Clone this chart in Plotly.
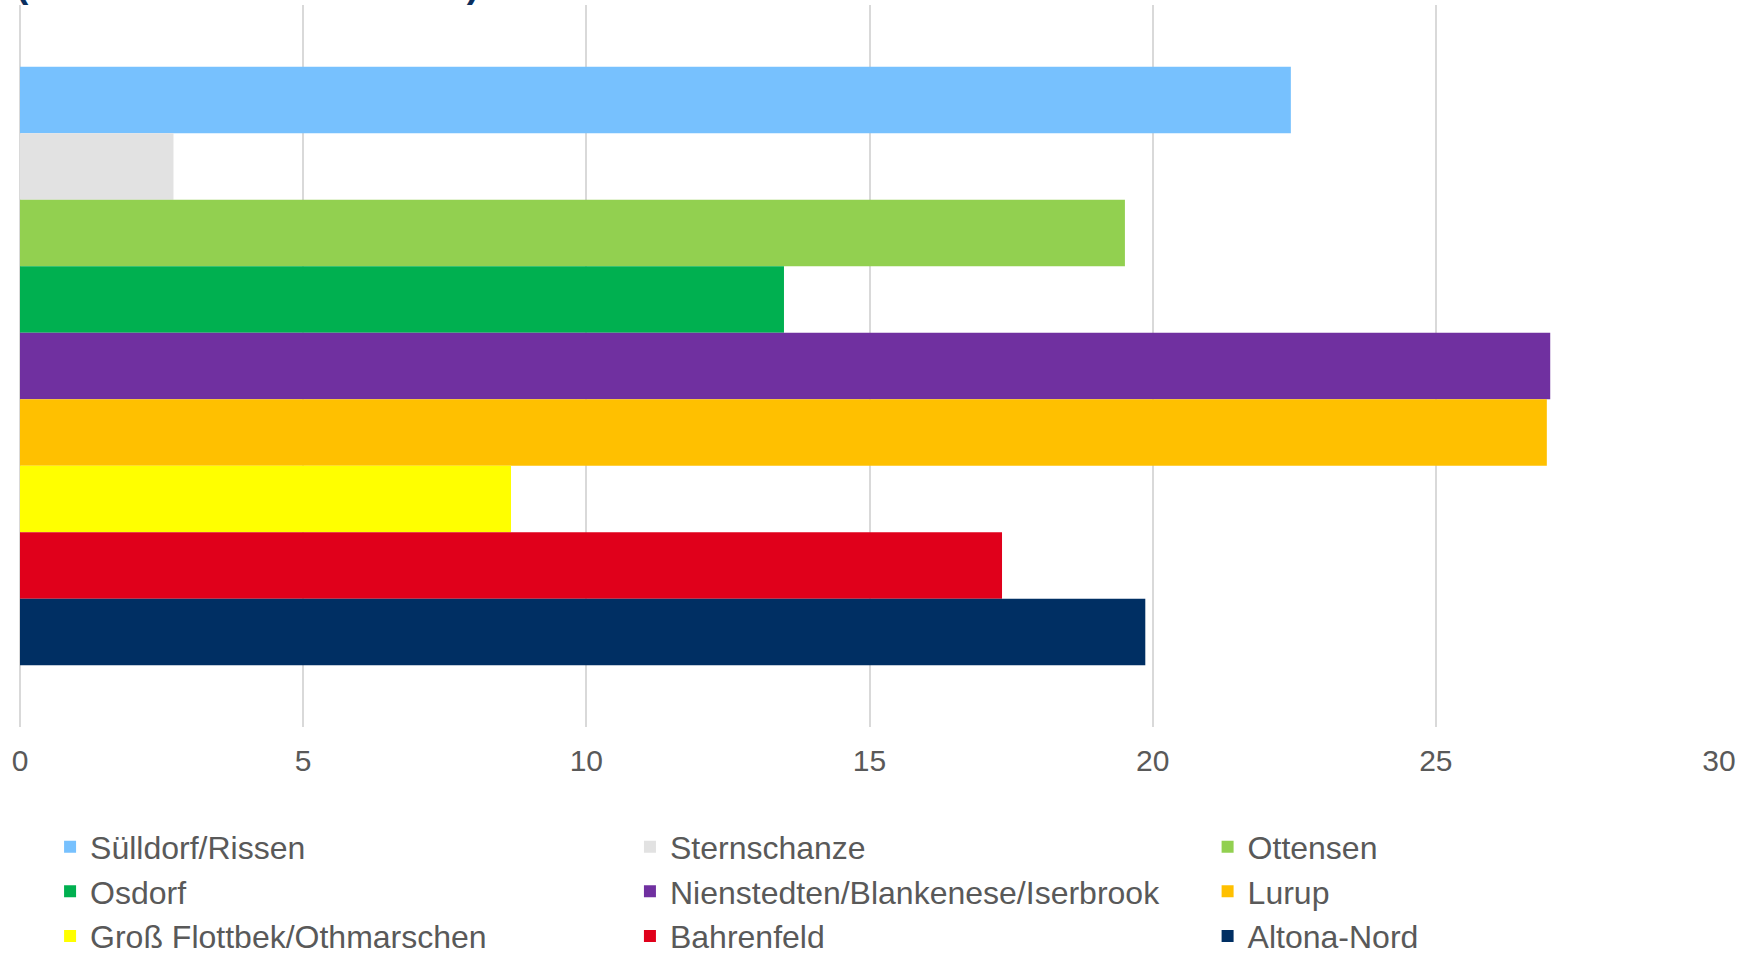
import plotly.graph_objects as go

districts = ["Sülldorf/Rissen", "Sternschanze", "Ottensen", "Osdorf",
             "Nienstedten/Blankenese/Iserbrook", "Lurup",
             "Groß Flottbek/Othmarschen", "Bahrenfeld", "Altona-Nord"]
values = [22.44, 2.71, 19.51, 13.49, 27.02, 26.96, 8.67, 17.34, 19.87]
colors = ["#77C1FE", "#E2E2E2", "#92D050", "#00B050", "#7030A0",
          "#FFC000", "#FFFF00", "#E0001B", "#002F63"]
x_ticks = [0, 5, 10, 15, 20, 25, 30]
title_text = "(in Prozent der Antworten)"

W, H = 1754, 953
ml, mr, mt, mb = 20, 35, 5, 226

# legend columns (row-wise order as in the reference)
legend_ids = ["legend", "legend2", "legend3"]
legend_x = [0.0177, 0.359, 0.699]

fig = go.Figure()
for i, (name, v, c) in enumerate(zip(districts, values, colors)):
    fig.add_trace(go.Bar(
        x=[v], y=[""], name=name, orientation="h",
        marker=dict(color=c, line=dict(width=0)),
        hoverinfo="x+name",
        legend=legend_ids[i % 3],
    ))

leg_common = dict(
    orientation="v", xanchor="left", y=-0.128, yanchor="top",
    font=dict(size=32, color="#595959"),
    itemwidth=30, tracegroupgap=0, bgcolor="rgba(0,0,0,0)",
    traceorder="normal",
)

fig.update_layout(
    width=W, height=H,
    margin=dict(l=ml, r=mr, t=mt, b=mb, pad=0, autoexpand=False),
    paper_bgcolor="white", plot_bgcolor="white",
    barmode="group", bargap=0.171, bargroupgap=0,
    font=dict(family="Liberation Sans, Arial, sans-serif", color="#595959"),
    xaxis=dict(
        range=[0, 30], tickvals=x_ticks, ticktext=[str(t) for t in x_ticks],
        showgrid=True, gridcolor="#D9D9D9", gridwidth=1.5,
        zeroline=True, zerolinecolor="#D9D9D9", zerolinewidth=1.5,
        showline=False, ticks="", ticklabelstandoff=13,
        tickfont=dict(size=30, color="#595959"),
    ),
    yaxis=dict(
        autorange="reversed", showticklabels=False, showgrid=False,
        zeroline=False, showline=False, ticks="",
    ),
    legend=dict(x=legend_x[0], **leg_common),
    legend2=dict(x=legend_x[1], **leg_common),
    legend3=dict(x=legend_x[2], **leg_common),
    showlegend=True,
    annotations=[dict(
        text="<b>" + title_text + "</b>", xref="paper", yref="paper",
        x=-0.0034, xanchor="left", y=0.9973, yanchor="bottom",
        showarrow=False, font=dict(size=37, color="#0B2F5F"),
    )],
)

fig.write_html(
    "out.html",
    config={"displayModeBar": False},
    post_script="document.body.style.margin='0';document.body.style.overflow='hidden';",
)
